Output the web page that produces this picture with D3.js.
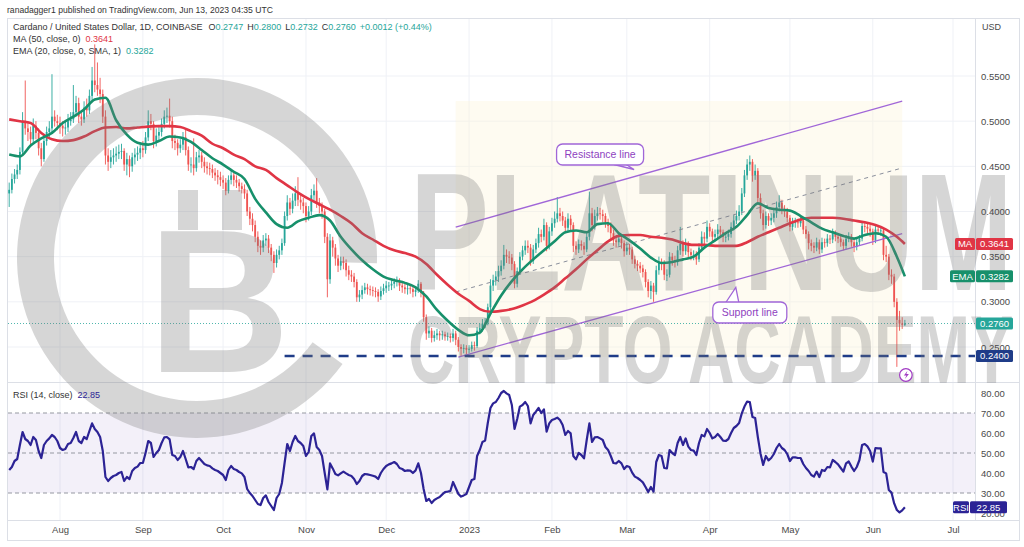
<!DOCTYPE html>
<html>
<head>
<meta charset="utf-8">
<title>Cardano / United States Dollar, 1D</title>
<script src="https://cdn.jsdelivr.net/npm/d3@7"></script>
<style>
  body { margin: 0; background: #fff; }
  svg { display: block; }
  text { font-family: "Liberation Sans", "Noto Sans", sans-serif; }
</style>
</head>
<body>
<svg id="chart" width="1024" height="547"></svg>
<script>
// one candle per day starting Jul 13 2022, prices in thousandths of a dollar
var firstDay = new Date(Date.UTC(2022, 6, 13));
var firstOpen = 420;

var closes = [424,436,441,446,466,500,492,488,480,495,
487,470,458,478,488,492,505,500,498,495,
492,493,500,502,510,520,505,502,515,512,
528,545,540,535,530,505,462,455,460,462,
464,466,467,452,458,450,460,463,465,470,
468,482,500,497,478,484,488,497,505,506,
500,478,476,470,474,482,468,452,452,448,
460,462,455,450,448,447,443,440,438,435,
432,423,435,440,435,432,428,425,420,400,
392,385,372,362,360,368,370,360,352,343,
352,357,365,395,410,403,412,420,413,410,
406,395,400,418,423,410,406,400,372,325,
368,360,348,340,345,343,335,330,328,322,
305,308,313,316,314,313,312,311,306,312,
315,318,318,320,322,323,318,316,314,315,
314,311,313,320,310,283,265,268,260,263,
265,263,264,262,262,260,265,258,250,248,
249,247,248,252,251,268,271,276,277,294,
318,324,328,334,340,352,350,349,342,320,
334,350,357,362,360,345,358,365,375,372,
385,362,378,387,392,398,395,390,382,392,
385,362,358,364,362,358,372,398,385,395,
398,397,395,388,384,376,368,366,370,365,
356,360,358,347,342,340,337,333,322,312,
318,311,335,343,342,330,330,350,346,344,
357,364,356,364,355,352,352,347,360,372,
370,383,378,372,375,380,377,372,372,375,
383,390,395,400,420,440,452,455,440,445,
415,398,385,395,390,393,398,405,410,403,
400,393,383,388,388,387,390,380,375,365,
362,360,366,358,366,365,370,369,376,372,
370,366,362,370,372,366,361,366,370,384,
383,381,378,368,380,379,379,352,350,330,
328,300,280,276,274.7,276];

var highs = [432,442,447,452,471,510,545,500,494,503,
500,492,476,483,494,500,552,512,507,505,
500,500,508,510,540,528,526,512,522,525,
535,560,585,565,548,535,512,470,468,470,
472,474,475,470,465,462,465,470,472,476,
478,488,512,508,500,492,495,503,512,515,
525,505,485,480,480,488,492,472,460,481,
466,468,466,460,455,454,452,448,446,444,
440,437,440,446,444,440,436,432,430,424,
405,398,390,378,368,374,376,374,364,356,
358,362,370,400,418,415,420,428,438,418,
415,410,406,425,430,437,415,410,403,376,
375,372,364,352,350,350,347,340,335,332,
325,313,318,321,320,318,317,316,314,317,
320,323,322,325,326,328,326,321,320,319,
318,317,317,324,322,312,286,273,271,268,
270,268,268,267,266,265,270,268,261,253,
253,252,252,256,256,272,276,281,282,298,
325,330,334,340,346,363,358,356,353,345,
338,355,362,368,368,364,363,370,382,380,
392,388,383,393,400,416,404,400,394,398,
396,388,367,369,368,366,378,422,404,402,
405,404,402,398,392,388,380,372,376,374,
368,366,364,361,351,346,344,341,336,325,
323,321,340,350,348,346,336,355,354,351,
362,383,368,370,367,359,357,356,365,378,
377,390,387,381,380,386,384,380,377,380,
388,396,401,407,426,446,458,462,458,452,
448,420,402,400,398,398,404,411,418,413,
407,404,396,393,393,392,396,393,384,378,
369,366,371,369,371,370,375,374,381,379,
376,373,369,374,377,375,369,370,374,389,
388,387,385,381,385,385,384,382,362,353,
336,331,304,290,283,280];

var lows = [405,420,431,436,441,462,485,478,472,476,
480,462,450,455,473,482,488,494,490,486,
483,485,488,495,498,505,498,495,498,505,
508,522,532,528,520,498,452,445,448,452,
455,458,458,445,440,438,444,452,456,458,
460,464,478,490,470,472,478,483,492,498,
493,470,468,462,465,468,462,445,443,440,
444,454,448,443,441,440,437,434,430,428,
425,418,420,430,428,426,422,420,414,395,
385,378,366,355,352,355,362,354,345,332,
338,347,352,362,390,396,398,406,406,402,
398,388,390,396,412,404,398,392,365,305,
320,350,340,333,335,336,328,324,322,316,
300,300,303,309,308,307,306,305,300,302,
308,310,312,313,315,317,312,310,309,308,
309,305,306,310,305,278,258,260,255,256,
258,257,258,257,257,255,256,252,245,240,
243,242,243,245,246,249,264,267,271,274,
290,312,318,322,329,336,343,342,335,315,
316,330,346,352,354,340,342,354,360,366,
368,356,358,373,382,388,389,384,376,378,
379,355,352,354,357,352,355,368,378,380,
390,391,388,382,377,370,362,360,362,359,
350,352,352,342,337,334,332,327,316,305,
303,300,308,330,335,324,323,327,340,338,
340,352,350,352,349,346,346,341,344,356,
364,366,372,366,367,370,371,366,366,368,
371,379,386,390,396,416,435,445,433,435,
410,392,379,381,384,385,388,393,400,397,
394,388,378,379,382,382,383,375,370,358,
356,354,356,353,354,360,361,364,365,367,
365,361,357,358,366,361,355,357,362,367,
377,375,372,363,365,374,373,346,344,324,
320,294,228,268,270,273.2];

// moving averages every 4th day, last value on the final candle
var maStep = 4;
var ma50 = [502,500,498,487,480,478,479,483,489,493,
493.5,492,493,494,494.5,494.5,493.5,489,484,475,
470,463,458,450,446,437,429,421,414,408,
402,395,387,376,369,362,357,354,350,342,
330,319,309,301,292,289,290,292,296,301,
308,316,326,336,347,357,367,373,374,374,
372,371,369,365,363,363,362,362,362,366,
372,377,382,387,391,393,393,393,392,390,
388,385,380,372,364.1];

var ema20 = [463,461,473,481,487,498,505,513,524,526,
501,485,476,474,478,483,482,477,468,459,
452,444,436,414,399,386,382,389,393,396,
390,372,358,346,336,328,324,321,316,306,
291,279,269,263,266,287,307,323,336,347,
357,367,377,379,377,386,387,376,368,359,
349,343,344,347,350,360,368,376,383,396,
409,404,402,401,395,388,381,377,373,370,
374,376,372,350,328.2];

// RSI(14) read for every day
var rsi14 = [41.5,43,46,47,54,60.5,57,56,54,58,
56.5,51,47.5,54,56,57.3,59,58,56,52.5,
51.5,52,54.5,55,57.5,60.5,56,55,58,57,
61,64.8,62,60.5,58,51,38,36,37.5,38.5,
39,40,40.5,36,38,37,41,42.5,43.2,45,
45,50,56,55,48,50,51.5,55,57.8,58,
56.8,49,48.5,46.5,48,51,47,42.8,43,42,
46,47.5,46,44.5,43.8,43.5,42.3,41.5,41,40,
39,36.5,41.5,43.5,42,41.5,40.5,39.8,38,32,
30,28.5,26.5,24.5,24,27.5,28.8,25.5,23.5,21.5,
27.5,29.5,35,45,54.5,51,55.5,58.5,56,55,
53.5,48.5,50.5,58.5,59.8,53,51.5,48.5,40,31.8,
44.8,42.3,39.5,38.8,39.8,40.7,39.8,39,38.5,37,
34.5,36,38.5,39.5,39.3,39,38.6,38.2,37,40,
42,43.5,44.3,44.8,45.5,44.5,42.5,42,41,41.3,
41.2,40,41.3,44.8,40,32,26,27,25,26.5,
27.3,28,29.3,30.5,30.7,31,35.5,32.5,29.5,28.2,
28.8,29.5,33,36.5,37,48.5,51.5,55.5,56.2,65,
72.5,74.8,75.5,77.5,80,81,79.8,79,74,62,
67,73.2,74,75.5,73.5,64.8,69,70.7,72.5,70,
71.8,60.7,64.8,66.5,67,67.7,66.5,64,59,61,
59.8,48.5,46.8,50,49,47.3,56.5,64.8,55.5,57.8,
58,57.3,56.5,53,51.5,48.5,45,44.8,46,44.8,
42,43.5,43,40.2,38.2,37.5,36.5,35.3,33,30.5,
33,30.7,45.5,49,48.5,42.5,42.3,51.5,50,49,
55,58,54,57.3,53.2,51.5,51.2,49,55,59,
58.3,62,60,57.3,58,59.5,58,56.2,56,57,
60,62.5,63.5,65,69.8,73.2,75.7,75.5,68,67.5,
58,49.8,44,48.5,46.3,47.5,49.5,52.5,54.5,52.5,
51.5,49.5,46,47.8,47.8,47.5,47.5,44.5,42.5,41,
39,38.2,40.7,38,41.5,41,43,42.8,46.5,45.5,
44.3,42.5,40.7,44.8,45.8,43.2,41,43,46.5,54,
54.5,53.3,51,45.7,52.5,52.3,52.3,40.5,39.8,31.5,
30.2,24.8,21.5,20.3,21.3,22.85];

var priceTicks = [0.25, 0.30, 0.35, 0.40, 0.45, 0.50, 0.55];
var rsiTicks = [20, 30, 40, 50, 60, 70, 80];
var rsiLevels = [70, 50, 30];

// drawings the author put on the chart
var resistanceLine = [["2022-12-27", 0.3828], ["2023-06-12", 0.5223]];
var supportLine = [["2022-12-28", 0.2389], ["2023-06-12", 0.3754]];
var medianLine = [["2022-12-27", 0.3109], ["2023-06-12", 0.4482]];
var supportLevel = { from: "2022-10-24", price: 0.24 };
var resistanceNote = { day: "2023-02-19", price: 0.4631, text: "Resistance line" };
var supportNote = { day: "2023-04-16", price: 0.2882, text: "Support line" };
var lastPrice = 0.2760, lastMA = 0.3641, lastEMA = 0.3282, lastRSI = 22.85;

var up = "#26a69a", down = "#ef5350", maColor = "#e03545", emaColor = "#17906b",
    rsiColor = "#2c2395", purple = "#a066d8", navy = "#1f3c88";

var svg = d3.select("#chart");
var left = 8, right = 975, mainTop = 18, mainBottom = 382, rsiTop = 383, rsiBottom = 520;
var parseDay = d3.utcParse("%Y-%m-%d");

function dayAt(i) { return d3.utcDay.offset(firstDay, i); }

var x = d3.scaleUtc()
  .domain([new Date(Date.UTC(2022, 7, 1)), new Date(Date.UTC(2023, 6, 1))])
  .range([60, 953]);
var y = d3.scaleLinear().domain([0.25, 0.55]).range([347, 76]);
var yR = d3.scaleLinear().domain([20, 80]).range([513, 393]);

var candles = closes.map(function (c, i) {
  return { date: dayAt(i), o: (i ? closes[i - 1] : firstOpen) / 1000, c: c / 1000,
           h: highs[i] / 1000, l: lows[i] / 1000 };
});

var defs = svg.append("defs");
defs.append("clipPath").attr("id", "mainClip").append("rect")
  .attr("x", left).attr("y", mainTop).attr("width", right - left).attr("height", mainBottom - mainTop);
defs.append("clipPath").attr("id", "rsiClip").append("rect")
  .attr("x", left).attr("y", rsiTop).attr("width", right - left).attr("height", rsiBottom - rsiTop);

// header
svg.append("text").attr("x", 7).attr("y", 13).attr("font-size", 8.6).attr("fill", "#333")
  .text("ranadagger1 published on TradingView.com, Jun 13, 2023 04:35 UTC");

// grid
var months = d3.utcMonth.range(new Date(Date.UTC(2022, 7, 1)), new Date(Date.UTC(2023, 6, 2)));
svg.append("g").selectAll("line").data(months).join("line")
  .attr("x1", function (d) { return x(d); }).attr("x2", function (d) { return x(d); })
  .attr("y1", mainTop).attr("y2", rsiBottom).attr("stroke", "#eff1f6");
svg.append("g").selectAll("line").data(priceTicks).join("line")
  .attr("x1", left).attr("x2", right).attr("y1", function (d) { return y(d); }).attr("y2", function (d) { return y(d); })
  .attr("stroke", "#eff1f6");

// frame
svg.append("rect").attr("x", 7.5).attr("y", mainTop + 0.5).attr("width", 1012).attr("height", 522)
  .attr("fill", "none").attr("stroke", "#dcdfe6");
svg.append("line").attr("x1", 7.5).attr("x2", 1019.5).attr("y1", mainBottom + 0.5).attr("y2", mainBottom + 0.5).attr("stroke", "#dcdfe6");
svg.append("line").attr("x1", 7.5).attr("x2", 1019.5).attr("y1", rsiBottom + 0.5).attr("y2", rsiBottom + 0.5).attr("stroke", "#dcdfe6");
svg.append("line").attr("x1", right + 0.5).attr("x2", right + 0.5).attr("y1", mainTop).attr("y2", rsiBottom).attr("stroke", "#dcdfe6");

var main = svg.append("g").attr("clip-path", "url(#mainClip)");

function pt(p) { return [x(parseDay(p[0])), y(p[1])]; }

// channel background
var r0 = pt(resistanceLine[0]), r1 = pt(resistanceLine[1]), s0 = pt(supportLine[0]);
main.append("rect").attr("x", r0[0]).attr("y", r1[1]).attr("width", r1[0] - r0[0]).attr("height", s0[1] - r1[1])
  .attr("fill", "#fcf6dc").attr("opacity", 0.4);

// last price line
main.append("line").attr("x1", left).attr("x2", right).attr("y1", y(lastPrice)).attr("y2", y(lastPrice))
  .attr("stroke", up).attr("stroke-dasharray", "1,2").attr("opacity", 0.8);

// candles
var cg = main.append("g");
cg.selectAll("line").data(candles).join("line")
  .attr("x1", function (d) { return x(d.date); }).attr("x2", function (d) { return x(d.date); })
  .attr("y1", function (d) { return y(d.h); }).attr("y2", function (d) { return y(d.l); })
  .attr("stroke", function (d) { return d.c >= d.o ? up : down; }).attr("stroke-width", 0.9);
cg.selectAll("rect").data(candles).join("rect")
  .attr("x", function (d) { return x(d.date) - 0.9; }).attr("width", 1.8)
  .attr("y", function (d) { return y(Math.max(d.o, d.c)); })
  .attr("height", function (d) { return Math.max(0.8, Math.abs(y(d.o) - y(d.c))); })
  .attr("fill", function (d) { return d.c >= d.o ? up : down; });

// channel lines
var lineP = d3.line();
main.append("path").attr("d", lineP(resistanceLine.map(pt))).attr("stroke", purple).attr("stroke-width", 1.3).attr("fill", "none");
main.append("path").attr("d", lineP(supportLine.map(pt))).attr("stroke", purple).attr("stroke-width", 1.3).attr("fill", "none");
main.append("path").attr("d", lineP(medianLine.map(pt))).attr("stroke", "#8a8f9c").attr("stroke-width", 1)
  .attr("stroke-dasharray", "4,4").attr("fill", "none");

// moving averages
function avgPoints(vals) {
  return vals.map(function (v, k) { return [x(dayAt(Math.min(k * maStep, closes.length - 1))), y(v / 1000)]; });
}
var smooth = d3.line().curve(d3.curveMonotoneX);
main.append("path").attr("d", smooth(avgPoints(ma50))).attr("stroke", maColor).attr("stroke-width", 2.6).attr("fill", "none");
main.append("path").attr("d", smooth(avgPoints(ema20))).attr("stroke", emaColor).attr("stroke-width", 2.6).attr("fill", "none");

// 0.24 support level
var sx = x(parseDay(supportLevel.from));
main.append("line").attr("x1", sx).attr("x2", right).attr("y1", y(supportLevel.price)).attr("y2", y(supportLevel.price))
  .attr("stroke", navy).attr("stroke-width", 2.4).attr("stroke-dasharray", "10,8");

// RSI pane
var rsiG = svg.append("g").attr("clip-path", "url(#rsiClip)");
rsiG.append("rect").attr("x", left).attr("width", right - left).attr("y", yR(70)).attr("height", yR(30) - yR(70))
  .attr("fill", "#7e57c2").attr("opacity", 0.09);
rsiG.selectAll("line.lvl").data(rsiLevels).join("line").attr("class", "lvl")
  .attr("x1", left).attr("x2", right).attr("y1", function (d) { return yR(d); }).attr("y2", function (d) { return yR(d); })
  .attr("stroke", "#9598a1").attr("stroke-dasharray", "4,3");
rsiG.append("path")
  .attr("d", d3.line()(rsi14.map(function (v, i) { return [x(dayAt(i)), yR(v)]; })))
  .attr("stroke", rsiColor).attr("stroke-width", 2.2).attr("fill", "none").attr("stroke-linejoin", "round");

// watermark
var wm = svg.append("g").attr("opacity", 0.3).attr("fill", "#7a7a7a");
wm.append("path").attr("transform", "translate(197,258)")
  .attr("d", d3.arc().innerRadius(143).outerRadius(180).startAngle(2.2).endAngle(Math.PI * 2 + 1.6)());
wm.append("text").attr("x", 148).attr("y", 372).attr("font-size", 205).attr("font-weight", 900)
  .attr("textLength", 142).attr("lengthAdjust", "spacingAndGlyphs").text("B");
wm.append("rect").attr("x", 178).attr("y", 190).attr("width", 20).attr("height", 40);
wm.append("rect").attr("x", 222).attr("y", 190).attr("width", 20).attr("height", 40);
wm.append("text").attr("x", 410).attr("y", 290).attr("font-size", 167).attr("font-weight", 900)
  .attr("textLength", 603).attr("lengthAdjust", "spacingAndGlyphs").text("PLATINUM");
wm.append("text").attr("x", 408).attr("y", 383).attr("font-size", 97).attr("font-weight", 900)
  .attr("textLength", 605).attr("lengthAdjust", "spacingAndGlyphs").text("CRYPTO ACADEMY");

// callouts
function callout(cx, cy, w, label, tail) {
  var g = svg.append("g");
  g.append("path").attr("d", tail).attr("fill", "#fff").attr("stroke", purple).attr("stroke-width", 1.3);
  g.append("rect").attr("x", cx - w / 2).attr("y", cy - 10.5).attr("width", w).attr("height", 21).attr("rx", 6)
    .attr("fill", "#fff").attr("stroke", purple).attr("stroke-width", 1.3);
  g.append("text").attr("x", cx).attr("y", cy + 3.8).attr("text-anchor", "middle").attr("font-size", 10.5)
    .attr("fill", "#8e3fc0").text(label);
}
var rc = [x(parseDay(resistanceNote.day)), y(resistanceNote.price)];
callout(rc[0], rc[1], 87, resistanceNote.text,
  "M" + (rc[0] + 14) + "," + (rc[1] + 10) + " L" + (rc[0] + 34) + "," + (rc[1] + 15) + " L" + (rc[0] + 26) + "," + (rc[1] + 10));
var sc = [x(parseDay(supportNote.day)), y(supportNote.price)];
callout(sc[0], sc[1], 74, supportNote.text,
  "M" + (sc[0] - 24) + "," + (sc[1] - 10) + " L" + (sc[0] - 14) + "," + (sc[1] - 25) + " L" + (sc[0] - 11) + "," + (sc[1] - 10));

// flash icon under the last candle
var fx = x(dayAt(closes.length - 1)) + 1, fy = mainBottom - 7;
svg.append("circle").attr("cx", fx).attr("cy", fy).attr("r", 6.3).attr("fill", "#fff").attr("stroke", "#a13bc4").attr("stroke-width", 1.2);
svg.append("path").attr("d", "M" + (fx + 1.5) + "," + (fy - 4) + " l-3.5,4.5 h2.5 l-1.5,3.5 l4,-5 h-2.5 z").attr("fill", "#a13bc4");

// axes
var priceAxis = svg.append("g").attr("transform", "translate(" + right + ",0)")
  .call(d3.axisRight(y).tickValues(priceTicks).tickSize(0).tickPadding(6).tickFormat(d3.format(".4f")));
var rsiAxis = svg.append("g").attr("transform", "translate(" + right + ",0)")
  .call(d3.axisRight(yR).tickValues(rsiTicks).tickSize(0).tickPadding(6).tickFormat(d3.format(".2f")));
var timeAxis = svg.append("g").attr("transform", "translate(0," + (rsiBottom + 2) + ")")
  .call(d3.axisBottom(x).tickValues(months).tickSize(0).tickPadding(4)
    .tickFormat(function (d) { return d.getUTCMonth() === 0 ? d3.utcFormat("%Y")(d) : d3.utcFormat("%b")(d); }));
[priceAxis, rsiAxis, timeAxis].forEach(function (a) {
  a.select(".domain").remove();
  a.selectAll("text").attr("font-size", 9.5).attr("fill", "#4a4a4a").attr("font-family", "Liberation Sans, sans-serif");
});
svg.append("text").attr("x", 982).attr("y", 30).attr("font-size", 9).attr("fill", "#4a4a4a").text("USD");

// price badges on the axis
function badge(x0, w, yc, fill, label) {
  svg.append("rect").attr("x", x0).attr("y", yc - 6).attr("width", w).attr("height", 12).attr("rx", 1.5).attr("fill", fill);
  svg.append("text").attr("x", x0 + w / 2).attr("y", yc + 3.4).attr("text-anchor", "middle")
    .attr("fill", "#fff").attr("font-size", 9.5).text(label);
}
badge(955, 20, y(lastMA), maColor, "MA");
badge(976, 37, y(lastMA), maColor, d3.format(".4f")(lastMA));
badge(950, 25, y(lastEMA), emaColor, "EMA");
badge(976, 37, y(lastEMA), emaColor, d3.format(".4f")(lastEMA));
badge(976, 37, y(lastPrice), up, d3.format(".4f")(lastPrice));
badge(976, 37, y(supportLevel.price), navy, d3.format(".4f")(supportLevel.price));
badge(953, 16, yR(lastRSI), rsiColor, "RSI");
badge(970, 37, yR(lastRSI), rsiColor, d3.format(".2f")(lastRSI));

// legends
var ohlc = [["O", "0.2747"], ["H", "0.2800"], ["L", "0.2732"], ["C", "0.2760"]];
var l1 = svg.append("text").attr("x", 13).attr("y", 30).attr("font-size", 9).attr("fill", "#333");
l1.append("tspan").text("Cardano / United States Dollar, 1D, COINBASE");
ohlc.forEach(function (p, i) {
  l1.append("tspan").attr("dx", i ? 4 : 6).text(p[0]);
  l1.append("tspan").attr("fill", up).text(p[1]);
});
l1.append("tspan").attr("dx", 4).attr("fill", up).text("+0.0012 (+0.44%)");

var l2 = svg.append("text").attr("x", 13).attr("y", 42).attr("font-size", 9).attr("fill", "#333");
l2.append("tspan").text("MA (50, close, 0)");
l2.append("tspan").attr("dx", 5).attr("fill", maColor).text(d3.format(".4f")(lastMA));
var l3 = svg.append("text").attr("x", 13).attr("y", 54).attr("font-size", 9).attr("fill", "#333");
l3.append("tspan").text("EMA (20, close, 0, SMA, 1)");
l3.append("tspan").attr("dx", 5).attr("fill", up).text(d3.format(".4f")(lastEMA));
var l4 = svg.append("text").attr("x", 13).attr("y", 398).attr("font-size", 9).attr("fill", "#333");
l4.append("tspan").text("RSI (14, close)");
l4.append("tspan").attr("dx", 5).attr("fill", rsiColor).text(d3.format(".2f")(lastRSI));
</script>
</body>
</html>
